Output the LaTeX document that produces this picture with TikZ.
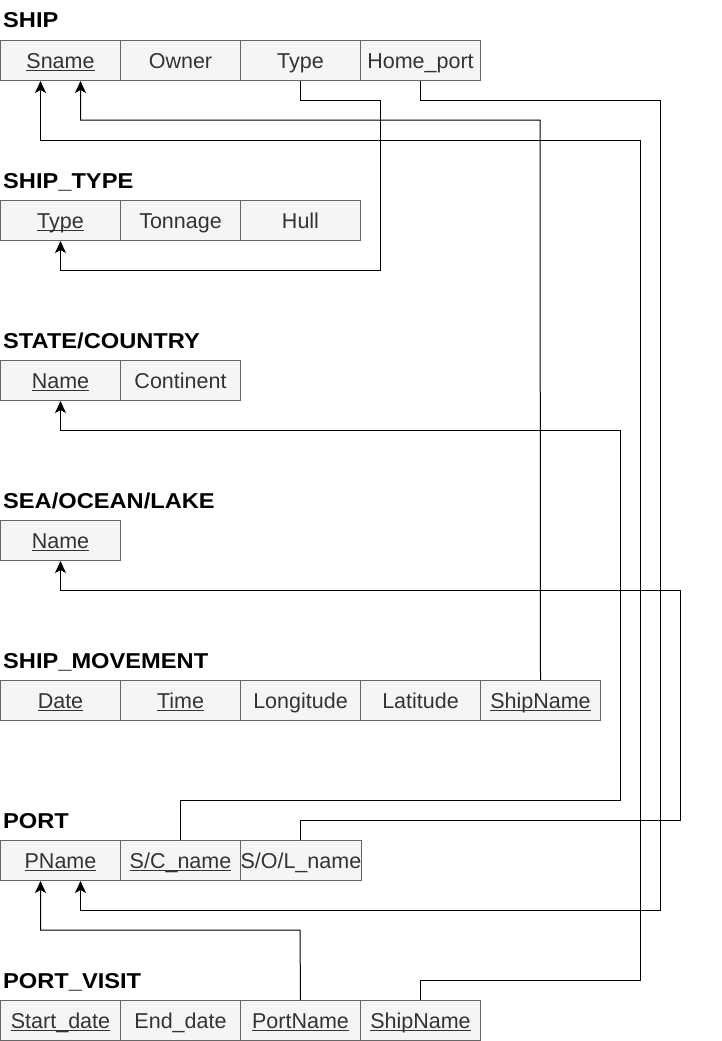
\documentclass[tikz,border=0pt]{standalone}
\usepackage{fontspec}
\setmainfont{Liberation Sans}
\newfontfamily\titlefont[FakeStretch=1.1]{Liberation Sans}
\usetikzlibrary{arrows.meta}
\definecolor{cellfill}{HTML}{F5F5F5}
\definecolor{cellline}{HTML}{666666}
\definecolor{celltext}{HTML}{333333}
\newcommand\keyul[1]{\setbox0\hbox{#1}\rlap{\rule[-2.8pt]{\wd0}{1.3pt}}\box0}
\tikzset{
 cell/.style={draw=cellline, fill=cellfill, text=celltext, line width=1pt, minimum width=120pt, minimum height=40pt, inner sep=0pt, text height=15.4pt, text depth=0pt, font=\fontsize{21.5}{24}\selectfont, anchor=north west},
 title/.style={anchor=base west, inner sep=0pt, font=\titlefont\fontsize{21.5}{26}\selectfont\bfseries},
 fk/.style={draw=black, line width=1pt, -{Stealth[length=12pt,width=11pt,inset=3pt]}}
}
\begin{document}
\begin{tikzpicture}[x=1pt,y=-1pt]
\useasboundingbox (0,0) rectangle (722,1041);
% SHIP
\node[title] (tShip) at (3,28) {SHIP};
\node[cell] (ship1) at (0,40) {\keyul{Sname}};
\node[cell] (ship2) at (120,40) {Owner};
\node[cell] (ship3) at (240,40) {Type};
\node[cell] (ship4) at (360,40) {Home\_port};
% SHIP_TYPE
\node[title] (tType) at (3,188) {SHIP\_TYPE};
\node[cell] (stype1) at (0,200) {\keyul{Type}};
\node[cell] (stype2) at (120,200) {Tonnage};
\node[cell] (stype3) at (240,200) {Hull};
% STATE/COUNTRY
\node[title] (tState) at (3,348) {STATE/COUNTRY};
\node[cell] (sc1) at (0,360) {\keyul{Name}};
\node[cell] (sc2) at (120,360) {Continent};
% SEA/OCEAN/LAKE
\node[title] (tSea) at (3,508) {SEA/OCEAN/LAKE};
\node[cell] (sea1) at (0,520) {\keyul{Name}};
% SHIP_MOVEMENT
\node[title] (tMove) at (3,668) {SHIP\_MOVEMENT};
\node[cell] (mv1) at (0,680) {\keyul{Date}};
\node[cell] (mv2) at (120,680) {\keyul{Time}};
\node[cell] (mv3) at (240,680) {Longitude};
\node[cell] (mv4) at (360,680) {Latitude};
\node[cell] (mv5) at (480,680) {\keyul{ShipName}};
% PORT
\node[title] (tPort) at (3,828) {PORT};
\node[cell] (port1) at (0,840) {\keyul{PName}};
\node[cell] (port2) at (120,840) {\keyul{S/C\_name}};
\node[cell] (port3) at (240,840) {S/O/L\_name};
% PORT_VISIT
\node[title] (tVisit) at (3,988) {PORT\_VISIT};
\node[cell] (pv1) at (0,1000) {\keyul{Start\_date}};
\node[cell] (pv2) at (120,1000) {End\_date};
\node[cell] (pv3) at (240,1000) {\keyul{PortName}};
\node[cell] (pv4) at (360,1000) {\keyul{ShipName}};
% connectors
\draw[fk] (ship3.south) |- (380,100) -- (380,270) -| (stype1.south);
\draw[fk] (ship4.south) |- (660,100) -- (660,910) -| ([xshift=20pt]port1.south);
\draw[fk] (mv5.north) -- (540,120) -| ([xshift=20pt]ship1.south);
\draw[fk] (pv4.north) |- (640,980) -- (640,140) -| ([xshift=-20pt]ship1.south);
\draw[fk] (port2.north) |- (620,800) -- (620,430) -| (sc1.south);
\draw[fk] (port3.north) |- (680,820) -- (680,590) -| (sea1.south);
\draw[fk] (pv3.north) -- (300,930) -| ([xshift=-20pt]port1.south);
\end{tikzpicture}
\end{document}
